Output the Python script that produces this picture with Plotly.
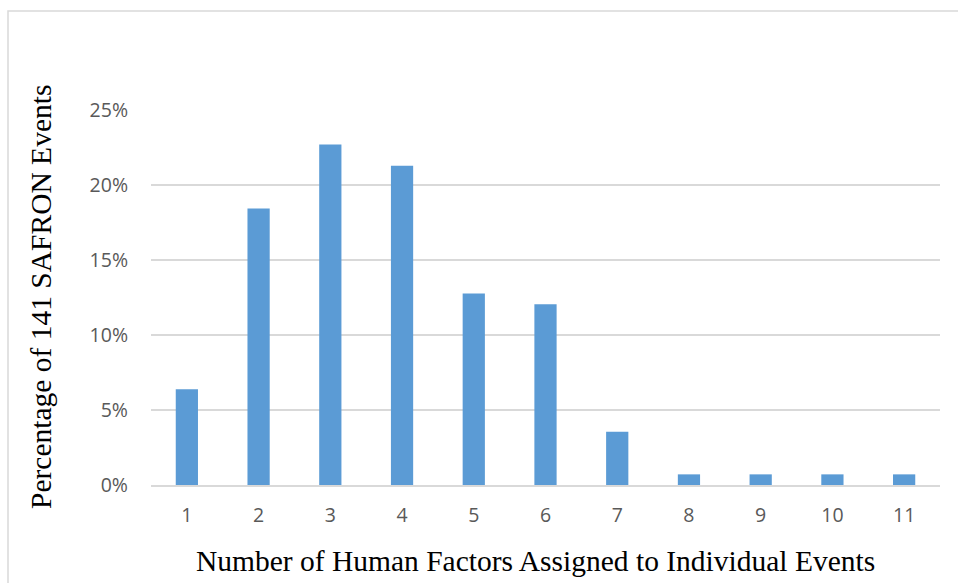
import plotly.graph_objects as go

# Number of human factors per event and share of the 141 SAFRON events
factor_counts = ["1", "2", "3", "4", "5", "6", "7", "8", "9", "10", "11"]
event_counts = [9, 26, 32, 30, 18, 17, 5, 1, 1, 1, 1]
total_events = 141
shares = [c / total_events for c in event_counts]

y_ticks = [0, 0.05, 0.10, 0.15, 0.20, 0.25]
y_tick_labels = ["0%", "5%", "10%", "15%", "20%", "25%"]

W, H = 958, 583
L, R, T, B = 151, 18, 110, 98
pw, ph = W - L - R, H - T - B

fig = go.Figure(
    go.Bar(
        x=factor_counts,
        y=shares,
        marker=dict(color="#5b9bd5", line=dict(width=0)),
        hoverinfo="x+y",
    )
)

tick_font = dict(family="Open Sans, Liberation Sans, sans-serif", size=19.5, color="#595959")
title_font = dict(family="Liberation Serif, Times New Roman, serif", size=29.5, color="#000000")

fig.update_layout(
    width=W,
    height=H,
    margin=dict(l=L, r=R, t=T, b=B),
    paper_bgcolor="white",
    plot_bgcolor="white",
    bargap=0.69,
    showlegend=False,
    xaxis=dict(
        type="category",
        tickfont=tick_font,
        showgrid=False,
        showline=True,
        linecolor="#d9d9d9",
        linewidth=1.5,
        ticks="",
        ticklabelstandoff=12,
    ),
    yaxis=dict(
        range=[0, 0.25],
        tickvals=y_ticks,
        ticktext=y_tick_labels,
        tickfont=tick_font,
        showgrid=True,
        gridcolor="#d9d9d9",
        gridwidth=1.5,
        zeroline=False,
        showline=False,
        ticks="",
        ticklabelstandoff=22,
    ),
    annotations=[
        dict(
            text="Number of Human Factors Assigned to Individual Events",
            xref="paper", yref="paper",
            x=(535 - L) / pw, y=(H - B - 561) / ph,
            xanchor="center", yanchor="middle",
            showarrow=False, font=title_font,
        ),
        dict(
            text="Percentage of 141 SAFRON Events",
            xref="paper", yref="paper",
            x=(41 - L) / pw, y=(H - B - 297) / ph,
            xanchor="center", yanchor="middle",
            textangle=-90,
            showarrow=False, font=title_font,
        ),
    ],
    shapes=[
        dict(
            type="rect", xref="paper", yref="paper",
            x0=(8 - L) / pw, x1=(W + 5 - L) / pw,
            y0=-(B + 10) / ph, y1=(H - B - 11) / ph,
            line=dict(color="#d9d9d9", width=1.5),
            fillcolor="rgba(0,0,0,0)",
            layer="below",
        )
    ],
)

fig.write_html("out.html")
